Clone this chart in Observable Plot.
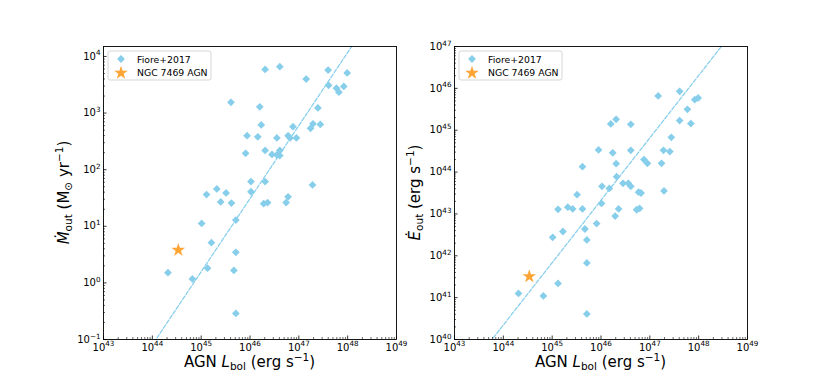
<!DOCTYPE html>
<html><head><meta charset="utf-8">
<script src="https://cdn.jsdelivr.net/npm/d3@7"></script>
<script src="https://cdn.jsdelivr.net/npm/@observablehq/plot@0.6"></script>
<style>
body{margin:0;background:#fff;}
#wrap{position:relative;width:830px;height:388px;overflow:hidden;background:#fff;}
#wrap svg{position:absolute;top:0;}
</style></head><body><div id="wrap"></div>
<script>
// ---- Data (log10 values) ----
// Left panel: Fiore+2017 mass outflow rates
const fioreLogLbolM = [46.31,46.61,47.60,47.99,47.15,47.61,47.77,47.82,47.92,45.61,46.20,47.39,46.23,46.88,47.24,47.29,47.44,45.94,46.16,46.55,46.78,46.82,46.95,46.31,45.91,46.45,46.55,46.61,46.61,46.02,46.31,47.28,45.32,45.11,45.51,46.02,45.40,45.62,46.28,46.36,46.74,46.78,45.71,45.01,45.21,45.71,45.13,45.67,44.32,44.82,45.71];
const fioreLogMdot   = [3.77,3.82,3.76,3.71,3.60,3.49,3.44,3.37,3.47,3.19,3.11,3.09,2.79,2.76,2.73,2.81,2.80,2.60,2.58,2.56,2.60,2.56,2.56,2.34,2.29,2.27,2.26,2.34,2.25,1.79,1.79,1.73,1.66,1.56,1.59,1.61,1.43,1.41,1.40,1.42,1.42,1.52,1.11,1.05,0.71,0.54,0.26,0.22,0.18,0.07,-0.54];
// Right panel: Fiore+2017 kinetic power
const fioreLogLbolE = [47.17,47.61,47.92,47.99,47.77,47.61,47.84,46.20,46.31,46.61,47.44,45.95,46.24,46.61,47.28,47.41,46.88,46.95,47.24,46.31,45.62,46.32,46.02,46.17,46.45,46.56,46.61,46.77,46.82,47.29,45.51,46.01,45.12,45.32,45.42,45.62,46.36,46.29,46.73,46.79,45.91,45.67,45.01,45.22,45.71,45.71,45.12,44.82,44.31,45.71];
const fioreLogEdot   = [45.82,45.93,45.73,45.77,45.50,45.23,45.16,45.15,45.26,45.14,44.83,44.53,44.46,44.52,44.52,44.49,44.30,44.21,44.21,44.20,44.13,43.89,43.66,43.61,43.73,43.73,43.66,43.52,43.50,43.55,43.46,43.25,43.11,43.16,43.12,43.12,43.12,42.95,43.10,43.13,42.77,42.64,42.44,42.58,42.38,41.83,41.34,41.04,41.10,40.61];
// NGC 7469 AGN
const ngcLbol = 3.4e44;
const ngcMdot = 3.8;
const ngcEdot = 3.2e41;
// Fit lines (log10 endpoints)
const fitMLogL = [43.5, 48.1];
const fitMLogY = [-1.74, 4.20];
const fitELogL = [43.5, 48.8];
const fitELogY = [39.6, 47.5];
// Axis ranges and labels
const xDomain = [1e43, 1e49];
const yDomainM = [1e-1, 1.5e4];
const yDomainE = [1e40, 1e47];
const xMajorExp = [43,44,45,46,47,48,49];
const yMajorExpM = [-1,0,1,2,3,4];
const yMajorExpE = [40,41,42,43,44,45,46,47];
const legendLabels = ["Fiore+2017", "NGC 7469 AGN"];

const SKY = "#87CEEB", ORANGE = "#FFA535";
const FONT = "DejaVu Sans";

function minors(lo, hi, dom) {
  const out = [];
  for (let e = lo; e < hi; e++) for (let k = 2; k <= 9; k++) {
    const v = k * 10 ** e; if (v >= dom[0] && v <= dom[1]) out.push(v);
  }
  return out;
}

function supify(svg) {
  d3.select(svg).selectAll('g[aria-label$="tick label"] text').each(function () {
    const t = this.textContent; const m = t.match(/^10\^(.+)$/);
    if (!m) return;
    const el = d3.select(this); el.text(null);
    el.append("tspan").text("10");
    el.append("tspan").attr("dy", -4.2).attr("font-size", "7.2px").text(m[1].replace("-", "\u2212"));
  });
}

function richText(g, x, y, rotate, size, parts) {
  const t = g.append("text")
    .attr("transform", `translate(${x},${y}) rotate(${rotate})`)
    .attr("text-anchor", "middle").attr("font-family", FONT).attr("font-size", size).attr("fill", "black");
  let cur = 0;
  for (const p of parts) {
    const shift = p.shift || 0;
    const ts = t.append("tspan").text(p.t).attr("dy", shift - cur);
    cur = shift;
    if (p.small) ts.attr("font-size", size * 0.7);
    if (p.it) ts.attr("font-style", "italic");
  }
  return t;
}

function panel({lx, ly, starY, yDomain, yMajExp, fitL, fitY, mL, mR, yLabelParts, yLabelX}) {
  const W = 415, H = 388, mT = 46, mB = 49;
  const fw = W - mL - mR, fh = H - mT - mB;
  const pts = lx.map((l, i) => ({x: 10 ** l, y: 10 ** ly[i]}));
  const fit = fitL.map((l, i) => ({x: 10 ** l, y: 10 ** fitY[i]}));
  const xMaj = xMajorExp.map(e => 10 ** e);
  const yMaj = yMajExp.map(e => 10 ** e);
  const fmt = d => `10^${Math.round(Math.log10(d))}`;
  const svg = Plot.plot({
    width: W, height: H, marginLeft: mL, marginRight: mR, marginTop: mT, marginBottom: mB,
    style: {fontFamily: FONT, fontSize: "10px", background: "transparent", color: "black", overflow: "visible"},
    x: {type: "log", domain: xDomain, label: null},
    y: {type: "log", domain: yDomain, label: null},
    marks: [
      Plot.line(fit, {x: "x", y: "y", stroke: SKY, strokeWidth: 1.25, strokeDasharray: "4,1.8", clip: true}),
      Plot.dot(pts, {x: "x", y: "y", symbol: "diamond2", r: 3.5, fill: SKY}),
      Plot.dot([{x: ngcLbol, y: starY}], {x: "x", y: "y", symbol: "star", r: 4.3, fill: ORANGE}),
      Plot.tickX(minors(43, 49, xDomain), {x: d => d, insetTop: fh - 2, stroke: "black", strokeWidth: 0.6}),
      Plot.tickX(xMaj, {x: d => d, insetTop: fh - 3.5, stroke: "black", strokeWidth: 0.8}),
      Plot.tickY(minors(yMajExp[0], yMajExp[yMajExp.length - 1] + 1, yDomain), {y: d => d, insetRight: fw - 2, stroke: "black", strokeWidth: 0.6}),
      Plot.tickY(yMaj, {y: d => d, insetRight: fw - 3.5, stroke: "black", strokeWidth: 0.8}),
      Plot.axisX({ticks: xMaj, tickSize: 0, tickPadding: 4, tickFormat: fmt}),
      Plot.axisY({ticks: yMaj, tickSize: 0, tickPadding: 3, tickFormat: fmt}),
      Plot.frame({stroke: "black", strokeWidth: 0.9})
    ]
  });
  supify(svg);
  const g = d3.select(svg).append("g");
  // x label
  richText(g, mL + fw / 2, 367, 0, 15, [
    {t: "AGN "}, {t: "L", it: true}, {t: "bol", small: true, shift: 3}, {t: " (erg s"},
    {t: "\u22121", small: true, shift: -6}, {t: ")"}]);
  // y label
  richText(g, yLabelX, mT + fh / 2, -90, 15, yLabelParts);
  // legend
  const lx0 = mL + 5, ly0 = mT + 5;
  g.append("rect").attr("x", lx0).attr("y", ly0).attr("width", 103).attr("height", 29).attr("rx", 2)
    .attr("fill", "white").attr("fill-opacity", 0.8).attr("stroke", "#cccccc").attr("stroke-width", 0.8);
  g.append("path").attr("d", d3.symbol(d3.symbolDiamond2, Math.PI * 3.5 * 3.5)())
    .attr("transform", `translate(${mL + 18},${ly0 + 8})`).attr("fill", SKY);
  g.append("path").attr("d", d3.symbol(d3.symbolStar, Math.PI * 4.3 * 4.3)())
    .attr("transform", `translate(${mL + 18},${ly0 + 22})`).attr("fill", ORANGE);
  legendLabels.forEach((s, i) => {
    g.append("text").attr("x", mL + 34).attr("y", ly0 + 11.5 + i * 13.7).attr("text-anchor", "start")
      .attr("font-family", FONT).attr("font-size", 9.3).attr("fill", "black").text(s);
  });
  return svg;
}

const wrap = document.getElementById("wrap");
const left = panel({
  lx: fioreLogLbolM, ly: fioreLogMdot, starY: ngcMdot, yDomain: yDomainM, yMajExp: yMajorExpM,
  fitL: fitMLogL, fitY: fitMLogY, mL: 103, mR: 19, yLabelX: 69,
  yLabelParts: [{t: "\u1E40", it: true}, {t: "out", small: true, shift: 3}, {t: " (M"},
    {t: "\u2299", small: true, shift: 3}, {t: " yr"}, {t: "\u22121", small: true, shift: -6}, {t: ")"}]
});
left.style.left = "0px";
const right = panel({
  lx: fioreLogLbolE, ly: fioreLogEdot, starY: ngcEdot, yDomain: yDomainE, yMajExp: yMajorExpE,
  fitL: fitELogL, fitY: fitELogY, mL: 39, mR: 83, yLabelX: 420 - 415,
  yLabelParts: [{t: "\u0116", it: true}, {t: "out", small: true, shift: 3}, {t: " (erg s"},
    {t: "\u22121", small: true, shift: -6}, {t: ")"}]
});
right.style.left = "415px";
wrap.appendChild(left);
wrap.appendChild(right);
</script>
</body></html>
